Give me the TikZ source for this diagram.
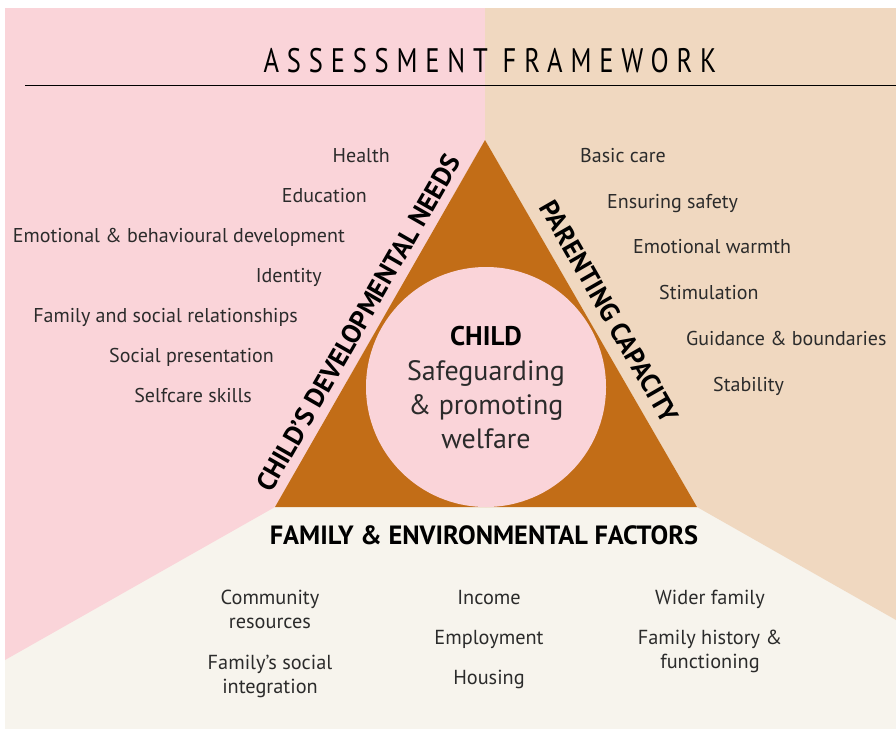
\documentclass[tikz,border=0pt]{standalone}
\usepackage{fontspec}
\setmainfont{PT Sans}
\newfontfamily\titlefont[FakeStretch=0.78,LetterSpace=23]{PT Sans}
\definecolor{bgpink}{HTML}{FAD4D9}
\definecolor{bgpeach}{HTML}{F0D8C0}
\definecolor{bgcream}{HTML}{F7F4ED}
\definecolor{tri}{HTML}{C26D17}
\definecolor{circ}{HTML}{FAD4D9}
\definecolor{txt}{HTML}{2B2B2B}
\tikzset{
  item/.style={text=txt,font=\fontsize{20}{24}\selectfont,inner sep=0pt},
  side/.style={text=black,font=\fontsize{26.8}{30}\selectfont\bfseries,inner sep=0pt},
  centre/.style={text=txt,font=\fontsize{28}{34}\selectfont,inner sep=0pt,anchor=base},
  bottomitem/.style={text=txt,font=\fontsize{20.3}{24}\selectfont,inner sep=0pt,align=center,anchor=base}
}
\begin{document}
\begin{tikzpicture}[x=1pt,y=-1pt]
\useasboundingbox (0,0) rectangle (896,731);
\fill[white] (0,0) rectangle (896,731);
\fill[bgcream] (5,8) rectangle (896,729);
\fill[bgpink] (5,8) -- (485,8) -- (485,140) -- (275,507) -- (5,660) -- cycle;
\fill[bgpeach] (485,8) -- (896,8) -- (896,620) -- (697,507) -- (485,140) -- cycle;
% title
\node[text=black,font=\titlefont\fontsize{34}{36}\selectfont,inner sep=0pt,anchor=base] (title) at (490,72) {ASSESSMENT FRAMEWORK};
\draw[black,line width=1pt] (25,85) -- (896,85);
% triangle
\fill[tri] (485,140) -- (697,507) -- (275,507) -- cycle;
\node[circle,fill=circ,minimum size=240pt,inner sep=0pt] (child) at (486,387) {};
\node[text=black,font=\fontsize{27}{30}\selectfont\bfseries,inner sep=0pt,anchor=base] (childt) at (486,345) {CHILD};
\node[centre] (c1) at (486,380) {Safeguarding};
\node[centre] (c2) at (486,414) {\& promoting};
\node[centre] (c3) at (486,448) {welfare};
% side labels
\node[side,rotate=60.2,anchor=south,inner sep=9pt] (cdn) at (374.8,332.5) {CHILD’S DEVELOPMENTAL NEEDS};
\node[side,rotate=-60.2,anchor=south,inner sep=12pt] (pc) at (590.5,322.7) {PARENTING CAPACITY};
\node[side,anchor=base,font=\fontsize{26.4}{30}\selectfont\bfseries] (fef) at (484,544) {FAMILY \& ENVIRONMENTAL FACTORS};
% left items
\node[item,anchor=base east] (l1) at (390,162) {Health};
\node[item,anchor=base east] (l2) at (367,202) {Education};
\node[item,anchor=base east] (l3) at (345,242) {Emotional \& behavioural development};
\node[item,anchor=base east] (l4) at (322,282) {Identity};
\node[item,anchor=base east] (l5) at (298,322) {Family and social relationships};
\node[item,anchor=base east] (l6) at (274,362) {Social presentation};
\node[item,anchor=base east] (l7) at (252,402) {Selfcare skills};
% right items
\node[item,anchor=base west] (r1) at (580,162) {Basic care};
\node[item,anchor=base west] (r2) at (607,208) {Ensuring safety};
\node[item,anchor=base west] (r3) at (633,253) {Emotional warmth};
\node[item,anchor=base west] (r4) at (659,299) {Stimulation};
\node[item,anchor=base west] (r5) at (686,345) {Guidance \& boundaries};
\node[item,anchor=base west] (r6) at (713,391) {Stability};
% bottom items (base = baseline of the last line)
\node[bottomitem] (b1) at (270,628) {Community\\resources};
\node[bottomitem] (b2) at (270,693) {Family’s social\\integration};
\node[bottomitem] (b3) at (489,604) {Income};
\node[bottomitem] (b4) at (489,644) {Employment};
\node[bottomitem] (b5) at (489,684) {Housing};
\node[bottomitem] (b6) at (710,604) {Wider family};
\node[bottomitem] (b7) at (710,668) {Family history \&\\functioning};
\end{tikzpicture}
\end{document}
